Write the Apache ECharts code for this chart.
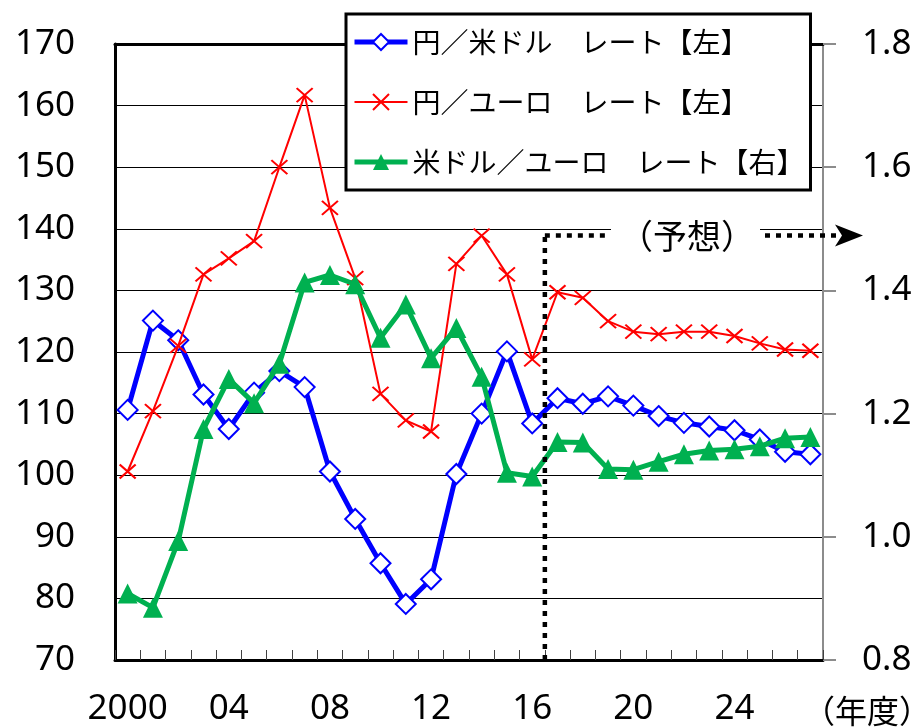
<!DOCTYPE html>
<html>
<head>
<meta charset="utf-8">
<script src="https://cdn.jsdelivr.net/npm/echarts@6/dist/echarts.min.js"></script>
<style>
  html, body { margin: 0; padding: 0; background: #fff; }
  #chart { width: 920px; height: 727px; }
</style>
</head>
<body>
<div id="chart"></div>
<script>
// Fiscal years (2017 onward are forecasts)
const years = ['2000','2001','2002','2003','2004','2005','2006','2007','2008','2009',
               '2010','2011','2012','2013','2014','2015','2016','2017','2018','2019',
               '2020','2021','2022','2023','2024','2025','2026','2027'];
const tickLabels = ['2000','04','08','12','16','20','24'];

// 円／米ドル (left axis)
const usdJpy = [110.6,125.1,121.9,113.1,107.5,113.4,116.9,114.3,100.6,92.9,
                85.7,79.1,83.1,100.2,110.0,120.1,108.4,112.5,111.6,112.8,
                111.3,109.6,108.5,107.9,107.3,105.8,103.8,103.4];
// 円／ユーロ (left axis)
const eurJpy = [100.6,110.4,121.0,132.6,135.2,138.0,150.0,161.7,143.4,132.0,
                113.2,108.9,107.1,134.3,138.9,132.6,118.8,129.7,128.8,125.0,
                123.3,122.9,123.3,123.3,122.6,121.4,120.4,120.2];
// 米ドル／ユーロ (right axis)
const eurUsd = [0.908,0.885,0.993,1.175,1.256,1.217,1.281,1.413,1.425,1.410,
                1.323,1.377,1.290,1.339,1.260,1.104,1.098,1.154,1.153,1.110,
                1.109,1.122,1.134,1.140,1.142,1.147,1.160,1.162];

const seriesNames = ['円／米ドル　レート【左】', '円／ユーロ　レート【左】', '米ドル／ユーロ　レート【右】'];
const forecastFrom = '2017';
const forecastLabel = '（予想）';
const xUnit = '（年度）';

const numFont = 'Noto Sans';
const jpFont = 'Noto Sans CJK JP';

const blue = '#0000ff', red = '#ff0000', green = '#00b050';

const chart = echarts.init(document.getElementById('chart'), null, { renderer: 'canvas' });

const crossPath = 'path://M0,0L16,14M16,0L0,14';

chart.setOption({
  animation: false,
  backgroundColor: '#ffffff',
  grid: { left: 115, right: 97, top: 44, bottom: 62, containLabel: false },
  legend: {
    orient: 'vertical',
    left: 346,
    top: 14,
    padding: [13, 6, 13, 6],
    itemWidth: 53,
    itemHeight: 20,
    itemGap: 30,
    backgroundColor: '#ffffff',
    borderColor: '#000000',
    borderWidth: 3,
    textStyle: { fontFamily: jpFont, fontSize: 28, color: '#000', lineHeight: 30 },
    data: [
      { name: seriesNames[0], lineStyle: { color: blue, width: 5 } },
      { name: seriesNames[1], lineStyle: { color: red, width: 2 } },
      { name: seriesNames[2], lineStyle: { color: green, width: 5 } }
    ]
  },
  xAxis: [
    {
      type: 'category',
      data: years,
      boundaryGap: true,
      axisLine: { show: true, onZero: false, lineStyle: { color: '#000', width: 3 } },
      axisTick: { show: true, inside: true, length: 10, interval: 0, lineStyle: { color: '#404040', width: 1 } },
      axisLabel: {
        interval: 3,
        margin: 32,
        fontFamily: numFont,
        fontSize: 35,
        color: '#000',
        formatter: function (v, i) { return tickLabels[i / 4]; }
      },
      splitLine: { show: false }
    },
    {
      type: 'category',
      data: years,
      position: 'top',
      axisLine: { show: true, onZero: false, lineStyle: { color: '#000', width: 3 } },
      axisTick: { show: false },
      axisLabel: { show: false },
      splitLine: { show: false }
    }
  ],
  yAxis: [
    {
      type: 'value',
      min: 70, max: 170, interval: 10,
      position: 'left',
      axisLine: { show: true, lineStyle: { color: '#000', width: 3 } },
      axisTick: { show: false },
      axisLabel: { margin: 40, fontFamily: numFont, fontSize: 35, color: '#000' },
      splitLine: { show: true, lineStyle: { color: '#000', width: 1 } }
    },
    {
      type: 'value',
      min: 0.8, max: 1.8, interval: 0.2,
      position: 'right',
      axisLine: { show: true, lineStyle: { color: '#8c8c8c', width: 2 } },
      axisTick: { show: true, inside: false, length: 13, lineStyle: { color: '#8c8c8c', width: 2 } },
      axisLabel: {
        margin: 39, fontFamily: numFont, fontSize: 35, color: '#000',
        formatter: function (v) { return v.toFixed(1); }
      },
      splitLine: { show: false }
    }
  ],
  series: [
    {
      name: seriesNames[0],
      type: 'line',
      yAxisIndex: 0,
      data: usdJpy,
      symbol: 'diamond',
      symbolSize: 20,
      showAllSymbol: true,
      lineStyle: { color: blue, width: 5 },
      itemStyle: { color: '#ffffff', borderColor: blue, borderWidth: 2 },
      z: 2
    },
    {
      name: seriesNames[1],
      type: 'line',
      yAxisIndex: 0,
      data: eurJpy,
      symbol: crossPath,
      symbolSize: [16, 14],
      symbolKeepAspect: false,
      showAllSymbol: true,
      lineStyle: { color: red, width: 2 },
      itemStyle: { color: 'rgba(0,0,0,0)', borderColor: red, borderWidth: 2 },
      z: 3
    },
    {
      name: seriesNames[2],
      type: 'line',
      yAxisIndex: 1,
      data: eurUsd,
      symbol: 'triangle',
      symbolSize: 20,
      showAllSymbol: true,
      lineStyle: { color: green, width: 5 },
      itemStyle: { color: green, borderColor: green, borderWidth: 0 },
      z: 4
    }
  ]
});

// Forecast marker: dotted bracket starting at the boundary before the first forecast year
const fi = years.indexOf(forecastFrom);
const xA = chart.convertToPixel({ xAxisIndex: 0 }, years[fi - 1]);
const xB = chart.convertToPixel({ xAxisIndex: 0 }, years[fi]);
const xBound = (xA + xB) / 2;
const yLevel = chart.convertToPixel({ yAxisIndex: 0 }, 138.9);
const yBottom = chart.convertToPixel({ yAxisIndex: 0 }, 70);
const dotted = { stroke: '#000', lineWidth: 4.5, lineDash: [5, 6] };

chart.setOption({
  graphic: [
    {
      type: 'rect', z: 50, silent: true,
      shape: { x: 611, y: yLevel - 20, width: 149, height: 40 },
      style: { fill: '#ffffff' }
    },
    {
      type: 'line', z: 51, silent: true,
      shape: { x1: xBound, y1: yBottom, x2: xBound, y2: yLevel },
      style: dotted
    },
    {
      type: 'line', z: 51, silent: true,
      shape: { x1: xBound, y1: yLevel, x2: 609, y2: yLevel },
      style: dotted
    },
    {
      type: 'text', z: 52, silent: true,
      x: 687, y: yLevel + 1,
      style: {
        text: forecastLabel, font: '34px "Noto Sans CJK JP"', fill: '#000',
        align: 'center', verticalAlign: 'middle'
      }
    },
    {
      type: 'line', z: 51, silent: true,
      shape: { x1: 765, y1: yLevel, x2: 840, y2: yLevel },
      style: dotted
    },
    {
      type: 'polygon', z: 52, silent: true,
      shape: { points: [[863, yLevel], [835, yLevel - 11], [842, yLevel], [835, yLevel + 11]] },
      style: { fill: '#000' }
    },
    {
      type: 'text', z: 52, silent: true,
      x: 867, y: 711,
      style: {
        text: xUnit, font: '32px "Noto Sans CJK JP"', fill: '#000',
        align: 'center', verticalAlign: 'middle'
      }
    }
  ]
});
</script>
</body>
</html>
